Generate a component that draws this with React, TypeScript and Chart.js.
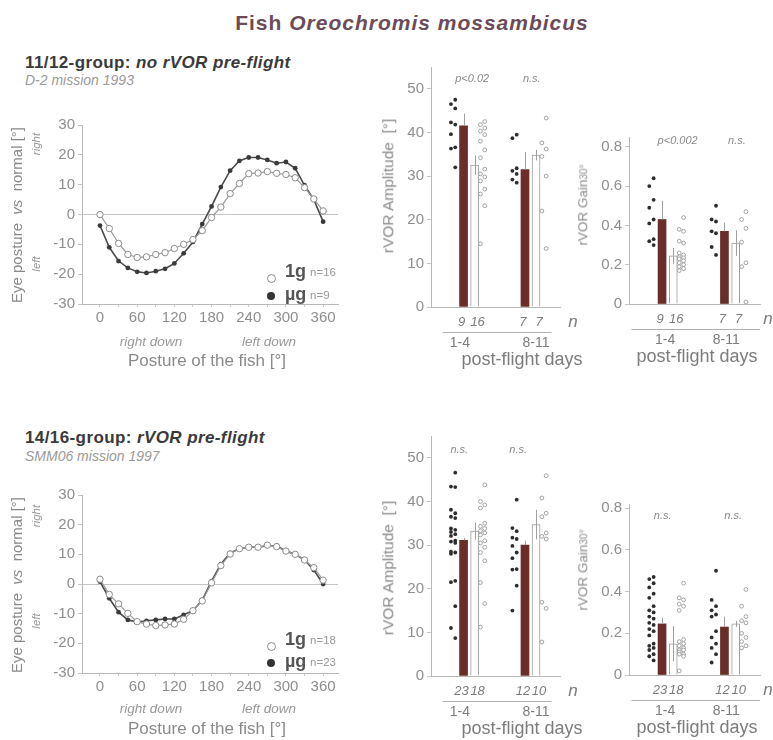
import React, { useEffect, useRef } from 'react';
import { Chart, registerables } from 'chart.js';

Chart.register(...registerables);

const FONT = '"Liberation Sans", Arial, Helvetica, sans-serif';
Chart.defaults.font.family = FONT;

// ---------- Eye posture vs posture of the fish ----------
const postureDeg = [0, 15, 30, 45, 60, 75, 90, 105, 120, 135, 150, 165, 180, 195, 210, 225, 240, 255, 270, 285, 300, 315, 330, 345, 360];
const postureTicks = [0, 30, 60, 90, 120, 150, 180, 210, 240, 270, 300, 330, 360];
const postureLabelled = [0, 60, 120, 180, 240, 300, 360];
const eyeTicks = [-30, -20, -10, 0, 10, 20, 30];

const d2Eye1g = [0, -4.7, -9.7, -13.4, -14.4, -14.2, -13.4, -12.8, -11.4, -10, -8.4, -5.4, -1, 2.5, 7, 10.4, 13.7, 13.9, 14.4, 13.8, 13.4, 12.3, 9, 5.2, 1.2];
const d2EyeUg = [-3.7, -11, -15.6, -17.9, -19.2, -19.6, -19, -18.2, -16.4, -13, -9.2, -3.2, 2.7, 9.2, 14.7, 18, 19.1, 19.1, 18.3, 17.2, 17.6, 15.5, 9.8, 5, -2.4];
const smmEye1g = [1.6, -3.5, -6.7, -9.9, -12.7, -13.5, -14, -13.8, -13.5, -11.9, -9, -5.7, 0.4, 6.2, 10.1, 11.9, 12.4, 12.4, 13.1, 12.6, 11.1, 10, 8.1, 5.5, 1.3];
const smmEyeUg = [0.8, -4.8, -9.5, -12.1, -12.8, -12.4, -12.1, -11.8, -11.8, -10.4, -9, -5.4, 1, 6.7, 10.5, 11.9, 12.4, 12.4, 12.9, 12.9, 11.1, 10, 8.1, 4.7, 0];

// ---------- rVOR bars ----------
const dayGroups = ['1-4', '8-11'];
const ampTicks = [0, 10, 20, 30, 40, 50];
const gainTicks = [0, 0.2, 0.4, 0.6, 0.8];

// D-2 amplitude
const d2AmpUgMean = [41.5, 31.5];
const d2AmpUgErr = [2.8, 4.0];
const d2Amp1gMean = [32.5, 34.8];
const d2Amp1gErr = [2.2, 1.2];
const d2AmpUgDots = [[47.5, 46.5, 45.5, 42.3, 41.8, 39.6, 36.6, 36.3, 32], [39.5, 38.7, 31.8, 31.2, 30.5, 29.2, 28.5]];
const d2Amp1gDots = [[42.5, 41.8, 41, 40.3, 39.5, 38, 36, 34.2, 31.6, 30.5, 29.8, 28.9, 27, 25.9, 23.2, 14.5], [43.3, 37.6, 36.2, 34.5, 30, 22, 13.4]];
const d2AmpP = ['p<0.02', 'n.s.'];

// D-2 gain
const d2GainUgMean = [0.43, 0.37];
const d2GainUgErr = [0.095, 0.045];
const d2Gain1gMean = [0.245, 0.31];
const d2Gain1gErr = [0.04, 0.065];
const d2GainUgDots = [[0.64, 0.6, 0.53, 0.49, 0.43, 0.41, 0.33, 0.32, 0.3], [0.5, 0.43, 0.42, 0.37, 0.36, 0.29, 0.25]];
const d2Gain1gDots = [[0.44, 0.38, 0.37, 0.32, 0.31, 0.26, 0.25, 0.24, 0.235, 0.23, 0.22, 0.21, 0.2, 0.19, 0.18, 0.17], [0.47, 0.43, 0.385, 0.315, 0.21, 0.19, 0.01]];
const d2GainP = ['p<0.002', 'n.s.'];

const d2NUg = [9, 7];
const d2N1g = [16, 7];

// SMM06 amplitude
const smmAmpUgMean = [31.1, 30.0];
const smmAmpUgErr = [0.6, 1.0];
const smmAmp1gMean = [33.2, 34.7];
const smmAmp1gErr = [2.0, 3.4];
const smmAmpUgDots = [[46.6, 43.4, 43.3, 38.1, 37.3, 36.5, 36.2, 33.8, 33.5, 33, 32.5, 32.1, 31, 30.8, 30.5, 28.5, 28.3, 28, 21.8, 21.5, 16, 11, 8.7], [40.4, 33.9, 33.2, 31.7, 31.4, 29.8, 28.3, 27, 24.5, 24.4, 20.7, 15]];
const smmAmp1gDots = [[43.8, 40, 39.2, 38.5, 35, 34.3, 33.8, 33.3, 32.8, 32.3, 31, 30.5, 29.5, 28.3, 26.4, 21.4, 16.6, 11.2], [45.9, 40.8, 37.3, 36.5, 32.8, 32, 31.4, 16.9, 15.5, 7.8]];
const smmAmpP = ['n.s.', 'n.s.'];

// SMM06 gain
const smmGainUgMean = [0.245, 0.23];
const smmGainUgErr = [0.03, 0.05];
const smmGain1gMean = [0.15, 0.245];
const smmGain1gErr = [0.085, 0.015];
const smmGainUgDots = [[0.47, 0.46, 0.44, 0.42, 0.39, 0.37, 0.33, 0.31, 0.3, 0.28, 0.27, 0.25, 0.24, 0.22, 0.21, 0.19, 0.15, 0.14, 0.13, 0.12, 0.1, 0.09, 0.07], [0.5, 0.36, 0.33, 0.31, 0.29, 0.28, 0.21, 0.18, 0.15, 0.13, 0.1, 0.06]];
const smmGain1gDots = [[0.44, 0.37, 0.36, 0.34, 0.33, 0.31, 0.17, 0.16, 0.15, 0.14, 0.13, 0.12, 0.12, 0.11, 0.1, 0.1, 0.09, 0.02], [0.41, 0.33, 0.28, 0.26, 0.25, 0.2, 0.18, 0.16, 0.14, 0.13]];
const smmGainP = ['n.s.', 'n.s.'];

const smmNUg = [23, 12];
const smmN1g = [18, 10];

// ---------- layout constants ----------
const OFF_UG_BAR = -0.09;
const OFF_1G_BAR = 0.09;
const OFF_UG_DOT = -0.245;
const OFF_1G_DOT = 0.235;
const TICK_COLOR = '#8e8e8e';
const AXIS_COLOR = '#b8b8b8';
const BAR_BROWN = '#6a2d27';

type Box = { left: number; top: number; w: number; h: number; padTop: number; padRight: number; yW: number; xH: number };

function lineConfig(one: number[], micro: number[], box: Box): any {
  return {
    type: 'scatter',
    data: {
      datasets: [
        {
          label: '1g',
          data: postureDeg.map((x, i) => ({ x, y: one[i] })),
          showLine: true,
          borderColor: '#9a9a9a',
          borderWidth: 1.2,
          pointRadius: 3.2,
          pointBackgroundColor: '#ffffff',
          pointBorderColor: '#8a8a8a',
          pointBorderWidth: 1,
        },
        {
          label: 'µg',
          data: postureDeg.map((x, i) => ({ x, y: micro[i] })),
          showLine: true,
          borderColor: '#4a4a4a',
          borderWidth: 1.6,
          pointRadius: 2.4,
          pointBackgroundColor: '#3a3a3a',
          pointBorderColor: '#3a3a3a',
          pointBorderWidth: 0,
        },
      ],
    },
    options: {
      responsive: false,
      animation: false,
      events: [],
      layout: { padding: { top: box.padTop, right: box.padRight, left: 0, bottom: 0 } },
      plugins: { legend: { display: false }, tooltip: { enabled: false } },
      scales: {
        x: {
          type: 'linear',
          min: -29,
          max: 384,
          afterBuildTicks: (s: any) => {
            s.ticks = postureTicks.map((v) => ({ value: v }));
          },
          afterFit: (s: any) => {
            s.height = box.xH;
          },
          ticks: {
            autoSkip: false,
            maxRotation: 0,
            padding: 2,
            color: TICK_COLOR,
            font: { size: 15 },
            callback: (v: number) => (postureLabelled.includes(v) ? String(v) : ''),
          },
          grid: { display: true, drawOnChartArea: false, drawTicks: true, tickLength: 3, tickColor: '#cccccc' },
          border: { display: true, color: AXIS_COLOR },
        },
        y: {
          type: 'linear',
          min: -30,
          max: 30,
          afterBuildTicks: (s: any) => {
            s.ticks = eyeTicks.map((v) => ({ value: v }));
          },
          afterFit: (s: any) => {
            s.width = box.yW;
          },
          ticks: { padding: 3, color: TICK_COLOR, font: { size: 15 } },
          grid: {
            display: true,
            drawOnChartArea: true,
            drawTicks: true,
            tickLength: 4,
            tickColor: '#c4c4c4',
            color: (ctx: any) => (ctx.tick && ctx.tick.value === 0 ? '#c4c4c4' : 'rgba(0,0,0,0)'),
          },
          border: { display: true, color: AXIS_COLOR },
        },
      },
    },
  };
}

type BarSpec = {
  ugMean: number[];
  ugErr: number[];
  ogMean: number[];
  ogErr: number[];
  ugDots: number[][];
  ogDots: number[][];
  nUg: number[];
  nOg: number[];
  pLabels: string[];
  ticks: number[];
  yMax: number;
  pDy: number;
  pOff: number[];
  nDx: number;
  groupOff: number[];
  lineFrom: number;
  lineTo: number;
  postX: number;
  fmt: (v: number) => string;
};

function dotsData(groups: number[][], off: number) {
  const out: { x: number; y: number }[] = [];
  groups.forEach((vals, g) => {
    vals.forEach((v, i) => out.push({ x: g + off + (i % 2 ? -0.05 : 0.02), y: v }));
  });
  return out;
}

function barPlugin(spec: BarSpec) {
  return {
    id: 'barAnnot',
    afterDatasetsDraw(chart: any) {
      const { ctx, scales } = chart;
      const x = scales.x;
      const y = scales.y;
      ctx.save();
      ctx.strokeStyle = '#a0a0a0';
      ctx.lineWidth = 1;
      spec.ugMean.forEach((m, g) => {
        const px = Math.round(x.getPixelForValue(g + OFF_UG_BAR)) + 0.5;
        ctx.beginPath();
        ctx.moveTo(px, y.getPixelForValue(m));
        ctx.lineTo(px, y.getPixelForValue(m + spec.ugErr[g]));
        ctx.stroke();
      });
      spec.ogMean.forEach((m, g) => {
        const px = Math.round(x.getPixelForValue(g + OFF_1G_BAR)) + 0.5;
        ctx.beginPath();
        ctx.moveTo(px, y.getPixelForValue(m - spec.ogErr[g]));
        ctx.lineTo(px, y.getPixelForValue(m + spec.ogErr[g]));
        ctx.stroke();
      });
      ctx.restore();
    },
    afterDraw(chart: any) {
      const { ctx, scales, chartArea } = chart;
      const x = scales.x;
      const y = scales.y;
      const base = y.getPixelForValue(0);
      ctx.save();
      ctx.textAlign = 'center';
      ctx.textBaseline = 'middle';
      ctx.fillStyle = '#7c7c7c';
      ctx.font = `italic 13px ${FONT}`;
      spec.nUg.forEach((n, g) => ctx.fillText(String(n), x.getPixelForValue(g + OFF_UG_BAR) - 2, base + 15.5));
      spec.nOg.forEach((n, g) => ctx.fillText(String(n), x.getPixelForValue(g + OFF_1G_BAR) + 3, base + 15.5));
      ctx.font = `italic 17px ${FONT}`;
      ctx.fillText('n', chartArea.right + spec.nDx, base + 15);
      ctx.strokeStyle = '#b0b0b0';
      ctx.lineWidth = 1;
      ctx.beginPath();
      ctx.moveTo(x.getPixelForValue(spec.lineFrom), Math.round(base + 25) + 0.5);
      ctx.lineTo(x.getPixelForValue(spec.lineTo), Math.round(base + 25) + 0.5);
      ctx.stroke();
      ctx.font = `14px ${FONT}`;
      dayGroups.forEach((lab, g) => ctx.fillText(lab, x.getPixelForValue(g + spec.groupOff[g]), base + 36));
      ctx.font = `18px ${FONT}`;
      ctx.fillText('post-flight days', x.getPixelForValue(spec.postX), base + 53);
      ctx.fillStyle = '#8a8a8a';
      ctx.font = `italic 11px ${FONT}`;
      spec.pLabels.forEach((lab, g) => ctx.fillText(lab, x.getPixelForValue(g + spec.pOff[g]), chartArea.top + spec.pDy));
      ctx.restore();
    },
  };
}

function barConfig(spec: BarSpec, box: Box): any {
  return {
    type: 'bar',
    data: {
      datasets: [
        {
          type: 'scatter',
          label: 'µg individual',
          data: dotsData(spec.ugDots, OFF_UG_DOT),
          pointRadius: 1.9,
          pointBackgroundColor: '#2d2d2d',
          pointBorderWidth: 0,
        },
        {
          type: 'scatter',
          label: '1g individual',
          data: dotsData(spec.ogDots, OFF_1G_DOT),
          pointRadius: 1.9,
          pointBackgroundColor: '#ffffff',
          pointBorderColor: '#9a9a9a',
          pointBorderWidth: 0.9,
        },
        {
          type: 'bar',
          label: 'µg',
          data: spec.ugMean.map((m, g) => ({ x: g + OFF_UG_BAR, y: m })),
          backgroundColor: BAR_BROWN,
          barThickness: 8,
          grouped: false,
        },
        {
          type: 'bar',
          label: '1g',
          data: spec.ogMean.map((m, g) => ({ x: g + OFF_1G_BAR, y: m })),
          backgroundColor: '#ffffff',
          borderColor: '#9d9d9d',
          borderWidth: 1,
          barThickness: 8,
          grouped: false,
        },
      ],
    },
    plugins: [barPlugin(spec)],
    options: {
      responsive: false,
      animation: false,
      events: [],
      layout: { padding: { top: box.padTop, right: box.padRight, left: 0, bottom: 0 } },
      plugins: { legend: { display: false }, tooltip: { enabled: false } },
      scales: {
        x: {
          type: 'linear',
          offset: false,
          min: -0.62,
          max: 1.48,
          afterFit: (s: any) => {
            s.height = box.xH;
          },
          ticks: { display: false },
          grid: { display: false, offset: false },
          border: { display: true, color: AXIS_COLOR },
        },
        y: {
          type: 'linear',
          min: 0,
          max: spec.yMax,
          afterBuildTicks: (s: any) => {
            s.ticks = spec.ticks.map((v) => ({ value: v }));
          },
          afterFit: (s: any) => {
            s.width = box.yW;
          },
          ticks: { padding: 3, color: TICK_COLOR, font: { size: 15 }, callback: (v: number) => spec.fmt(v) },
          grid: { display: true, drawOnChartArea: false, drawTicks: true, tickLength: 4, tickColor: '#c4c4c4' },
          border: { display: true, color: AXIS_COLOR },
        },
      },
    },
  };
}

function ChartCanvas({ box, make }: { box: Box; make: () => any }) {
  const ref = useRef<HTMLCanvasElement | null>(null);
  useEffect(() => {
    if (!ref.current) return;
    const chart = new Chart(ref.current, make());
    return () => chart.destroy();
  }, []);
  return (
    <canvas
      ref={ref}
      width={box.w}
      height={box.h}
      style={{ position: 'absolute', left: box.left, top: box.top, width: box.w, height: box.h, display: 'block' }}
    />
  );
}

function T({
  x,
  y,
  align = 'left',
  rotate = false,
  style,
  children,
}: {
  x: number;
  y: number;
  align?: 'left' | 'center' | 'right';
  rotate?: boolean;
  style?: React.CSSProperties;
  children: React.ReactNode;
}) {
  const tx = align === 'left' ? '0' : align === 'center' ? '-50%' : '-100%';
  const transform = rotate ? 'translate(-50%,-50%) rotate(-90deg)' : `translate(${tx},-50%)`;
  return (
    <div
      style={{
        position: 'absolute',
        left: x,
        top: y,
        transform,
        whiteSpace: 'nowrap',
        lineHeight: 1,
        fontFamily: FONT,
        ...style,
      }}
    >
      {children}
    </div>
  );
}

const fmtAmp = (v: number) => String(v);
const fmtGain = (v: number) => (v === 0 ? '0' : v.toFixed(1));

const lineTopBox: Box = { left: 0, top: 110, w: 350, h: 230, padTop: 15, padRight: 12, yW: 82, xH: 36 };
const lineBotBox: Box = { left: 0, top: 480, w: 350, h: 230, padTop: 15, padRight: 12, yW: 82, xH: 37 };
const ampTopBox: Box = { left: 380, top: 55, w: 214, h: 320, padTop: 10, padRight: 34, yW: 51, xH: 68 };
const gainTopBox: Box = { left: 595, top: 125, w: 178, h: 250, padTop: 8, padRight: 13, yW: 34, xH: 71 };
const ampBotBox: Box = { left: 380, top: 424, w: 214, h: 316, padTop: 10, padRight: 34, yW: 51, xH: 64 };
const gainBotBox: Box = { left: 595, top: 492, w: 178, h: 248, padTop: 9, padRight: 13, yW: 34, xH: 65 };

const ampLayout = { groupOff: [-0.15, 0.09], lineFrom: -0.43, lineTo: 1.34, postX: 0.86, nDx: 13 };
const gainLayout = { groupOff: [-0.04, -0.06], lineFrom: -0.58, lineTo: 1.48, postX: 0.47, nDx: 8 };

const d2AmpSpec: BarSpec = {
  ugMean: d2AmpUgMean, ugErr: d2AmpUgErr, ogMean: d2Amp1gMean, ogErr: d2Amp1gErr,
  ugDots: d2AmpUgDots, ogDots: d2Amp1gDots, nUg: d2NUg, nOg: d2N1g, pLabels: d2AmpP,
  ticks: ampTicks, yMax: 55, pDy: 12, pOff: [0.05, 0.02], fmt: fmtAmp, ...ampLayout,
};
const d2GainSpec: BarSpec = {
  ugMean: d2GainUgMean, ugErr: d2GainUgErr, ogMean: d2Gain1gMean, ogErr: d2Gain1gErr,
  ugDots: d2GainUgDots, ogDots: d2Gain1gDots, nUg: d2NUg, nOg: d2N1g, pLabels: d2GainP,
  ticks: gainTicks, yMax: 0.85, pDy: 4, pOff: [0.16, 0.11], fmt: fmtGain, ...gainLayout,
};
const smmAmpSpec: BarSpec = {
  ugMean: smmAmpUgMean, ugErr: smmAmpUgErr, ogMean: smmAmp1gMean, ogErr: smmAmp1gErr,
  ugDots: smmAmpUgDots, ogDots: smmAmp1gDots, nUg: smmNUg, nOg: smmN1g, pLabels: smmAmpP,
  ticks: ampTicks, yMax: 55, pDy: 14, pOff: [-0.16, -0.2], fmt: fmtAmp, ...ampLayout,
};
const smmGainSpec: BarSpec = {
  ugMean: smmGainUgMean, ugErr: smmGainUgErr, ogMean: smmGain1gMean, ogErr: smmGain1gErr,
  ugDots: smmGainUgDots, ogDots: smmGain1gDots, nUg: smmNUg, nOg: smmN1g, pLabels: smmGainP,
  ticks: gainTicks, yMax: 0.82, pDy: 12, pOff: [-0.08, 0.05], fmt: fmtGain, ...gainLayout,
};

const gray = '#8a8a8a';

function LineLabels({ dy, rightY, leftY, oneN, microN, leg1Y, legUY }: { dy: number; rightY: number; leftY: number; oneN: number; microN: number; leg1Y: number; legUY: number }) {
  return (
    <>
      <T x={16} y={215 + dy} rotate style={{ fontSize: 15, color: gray }}>
        Eye posture&nbsp;&nbsp;<i>vs</i>&nbsp;&nbsp;normal [°]
      </T>
      <T x={37} y={rightY} rotate style={{ fontSize: 11.5, color: '#999', fontStyle: 'italic' }}>right</T>
      <T x={37} y={leftY} rotate style={{ fontSize: 11.5, color: '#999', fontStyle: 'italic' }}>left</T>
      <div style={{ position: 'absolute', left: 266.5, top: leg1Y + 6.5 - 4, width: 7, height: 7, borderRadius: '50%', border: '1px solid #8a8a8a', background: '#fff' }} />
      <T x={285} y={leg1Y} style={{ fontSize: 18, fontWeight: 'bold', color: '#555' }}>1g</T>
      <T x={310} y={leg1Y + 2} style={{ fontSize: 11.5, color: '#999' }}>n={oneN}</T>
      <div style={{ position: 'absolute', left: 267, top: legUY + 2 - 4, width: 8, height: 8, borderRadius: '50%', background: '#333' }} />
      <T x={285} y={legUY} style={{ fontSize: 18, fontWeight: 'bold', color: '#555' }}>µg</T>
      <T x={310} y={legUY + 2} style={{ fontSize: 11.5, color: '#999' }}>n={microN}</T>
    </>
  );
}

const headStyle: React.CSSProperties = { fontSize: 17, fontWeight: 'bold', color: '#3a3a3a', letterSpacing: 0.4 };
const subStyle: React.CSSProperties = { fontSize: 14, fontStyle: 'italic', color: '#9a9a9a' };
const downStyle: React.CSSProperties = { fontSize: 13.5, fontStyle: 'italic', color: '#999' };
const postureStyle: React.CSSProperties = { fontSize: 17, color: gray };

export default function App() {
  return (
    <div style={{ position: 'absolute', left: 0, top: 0, width: 773, height: 740, background: '#ffffff', overflow: 'hidden', fontFamily: FONT }}>
      <T x={412} y={22} align="center" style={{ fontSize: 21, fontWeight: 'bold', color: '#6b4b58', letterSpacing: 1 }}>
        Fish <i>Oreochromis mossambicus</i>
      </T>

      {/* upper row */}
      <T x={25} y={62} style={headStyle}>
        11/12-group: <i>no rVOR pre-flight</i>
      </T>
      <T x={25} y={80} style={subStyle}>D-2 mission 1993</T>
      <ChartCanvas box={lineTopBox} make={() => lineConfig(d2Eye1g, d2EyeUg, lineTopBox)} />
      <LineLabels dy={0} rightY={144} leftY={264} oneN={16} microN={9} leg1Y={271} legUY={294} />
      <T x={151} y={342} align="center" style={downStyle}>right down</T>
      <T x={269} y={342} align="center" style={downStyle}>left down</T>
      <T x={207} y={360} align="center" style={postureStyle}>Posture of the fish [°]</T>

      <ChartCanvas box={ampTopBox} make={() => barConfig(d2AmpSpec, ampTopBox)} />
      <T x={388} y={186} rotate style={{ fontSize: 15.5, color: gray }}>rVOR Amplitude&nbsp;&nbsp;[°]</T>
      <ChartCanvas box={gainTopBox} make={() => barConfig(d2GainSpec, gainTopBox)} />
      <T x={583} y={205} rotate style={{ fontSize: 13.5, color: gray }}>rVOR Gain<span style={{ fontSize: 10 }}>30°</span></T>

      {/* lower row */}
      <T x={25} y={437} style={headStyle}>
        14/16-group: <i>rVOR pre-flight</i>
      </T>
      <T x={25} y={456} style={subStyle}>SMM06 mission 1997</T>
      <ChartCanvas box={lineBotBox} make={() => lineConfig(smmEye1g, smmEyeUg, lineBotBox)} />
      <LineLabels dy={370} rightY={516} leftY={621} oneN={18} microN={23} leg1Y={639} legUY={661} />
      <T x={151} y={709} align="center" style={downStyle}>right down</T>
      <T x={269} y={709} align="center" style={downStyle}>left down</T>
      <T x={207} y={728} align="center" style={postureStyle}>Posture of the fish [°]</T>

      <ChartCanvas box={ampBotBox} make={() => barConfig(smmAmpSpec, ampBotBox)} />
      <T x={388} y={568} rotate style={{ fontSize: 15.5, color: gray }}>rVOR Amplitude&nbsp;&nbsp;[°]</T>
      <ChartCanvas box={gainBotBox} make={() => barConfig(smmGainSpec, gainBotBox)} />
      <T x={583} y={570} rotate style={{ fontSize: 13.5, color: gray }}>rVOR Gain<span style={{ fontSize: 10 }}>30°</span></T>
    </div>
  );
}
